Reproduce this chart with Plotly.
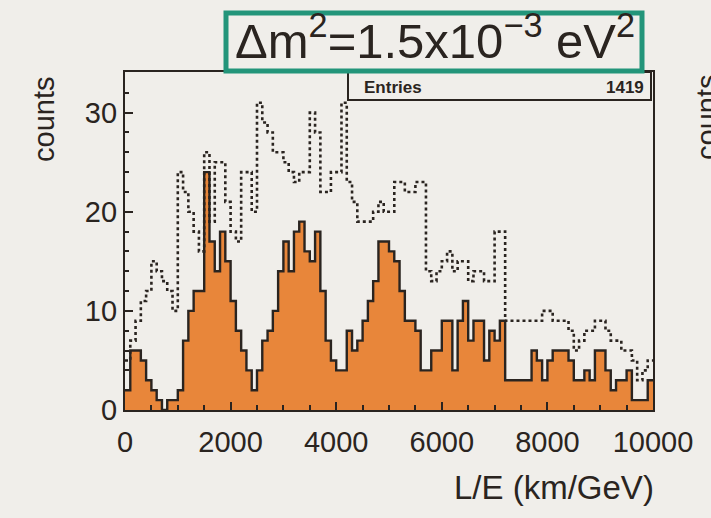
import numpy as np
import plotly.graph_objects as go

# histogram binning (L/E, km/GeV)
bin_width = 100
n_bins = 100

# oscillated spectrum (orange filled histogram)
osc_counts = [2, 6, 6, 5, 3, 2, 1, 0, 1, 1,
              2, 7, 10, 12, 12, 24, 17, 14, 18, 15,
              11, 8, 6, 4, 2, 4, 7, 8, 10, 14,
              17, 14, 18, 19, 16, 15, 18, 12, 7, 5,
              4, 4, 8, 6, 7, 9, 11, 13, 17, 17,
              16, 15, 12, 9, 9, 8, 4, 4, 6, 6,
              9, 9, 4, 9, 11, 7, 9, 9, 5, 8,
              7, 9, 3, 3, 3, 3, 3, 6, 5, 3,
              5, 6, 6, 6, 5, 3, 3, 4, 3, 6,
              6, 4, 2, 3, 3, 4, 1, 1, 1, 3]

# no-oscillation expectation (dotted histogram)
noosc_counts = [5, 7, 9, 11, 12, 15, 14, 13, 12, 10,
                24, 22, 20, 18, 16, 26, 19, 25, 25, 21,
                18, 17, 24, 24, 20, 31, 29, 28, 26, 26,
                25, 24, 23, 24, 24, 30, 28, 22, 22, 24,
                24, 31, 23, 21, 19, 19, 19, 20, 21, 20,
                20, 23, 23, 22, 22, 23, 23, 14, 13, 14,
                15, 16, 14, 15, 15, 13, 14, 14, 13, 13,
                18, 18, 9, 9, 9, 9, 9, 9, 9, 10,
                10, 9, 9, 9, 8, 6, 7, 8, 8, 9,
                9, 8, 7, 7, 6, 6, 5, 3, 4, 5]

x_tick_vals = [0, 2000, 4000, 6000, 8000, 10000]
x_tick_text = ["0", "2000", "4000", "6000", "8000", "10000"]
y_tick_vals = [0, 10, 20, 30]
entries = 1419

edges = np.arange(n_bins + 1) * bin_width
osc_y = osc_counts + [osc_counts[-1]]
noosc_y = noosc_counts + [noosc_counts[-1]]

BG = "#f0eeea"
ORANGE = "#e8863a"
GREEN = "#23957a"
INK = "#2a2420"
FONT = "Liberation Sans"

fig = go.Figure()
fig.add_trace(go.Scatter(x=edges, y=osc_y, mode="lines", line_shape="hv",
                         fill="tozeroy", fillcolor=ORANGE,
                         line=dict(color=INK, width=2.4),
                         hoverinfo="skip", showlegend=False))
fig.add_trace(go.Scatter(x=edges, y=noosc_y, mode="lines", line_shape="hv",
                         line=dict(color=INK, width=2.6, dash="dot"),
                         hoverinfo="skip", showlegend=False))

fig.update_layout(
    width=711, height=518,
    margin=dict(l=125, r=58, t=72, b=108),
    paper_bgcolor=BG, plot_bgcolor=BG,
    font=dict(family=FONT, color=INK),
    showlegend=False,
)
fig.update_xaxes(range=[0, 10000], tickvals=x_tick_vals, ticktext=x_tick_text,
                 ticks="inside", ticklen=8, tickwidth=1.8, tickcolor=INK,
                 minor=dict(dtick=500, ticks="inside", ticklen=5, tickwidth=1.5, tickcolor=INK),
                 showgrid=False, zeroline=False,
                 showline=True, linecolor=INK, linewidth=2.2, mirror=True,
                 tickfont=dict(size=29, family=FONT, color=INK), ticklabelstandoff=5)
fig.update_yaxes(range=[0, 34.1], tickvals=y_tick_vals,
                 ticks="inside", ticklen=8, tickwidth=1.8, tickcolor=INK,
                 minor=dict(dtick=2, ticks="inside", ticklen=4, tickwidth=1.5, tickcolor=INK),
                 showgrid=False, zeroline=False,
                 showline=True, linecolor=INK, linewidth=2.2, mirror=True,
                 tickfont=dict(size=29, family=FONT, color=INK), ticklabelstandoff=0)

# axis titles
fig.add_annotation(text="counts", xref="paper", yref="paper",
                   x=(44 - 125) / 528, y=(410 - 120) / 338, textangle=-90,
                   xanchor="center", yanchor="middle",
                   showarrow=False, font=dict(size=29, family=FONT, color=INK))
fig.add_annotation(text="L/E (km/GeV)", xref="paper", yref="paper",
                   x=(656 - 125) / 528, y=(410 - 487) / 338, xanchor="right",
                   yanchor="middle",
                   showarrow=False, font=dict(size=33, family=FONT, color=INK))
# partial label from neighbouring panel (cut by the right edge, as in the scan)
fig.add_annotation(text="counts", xref="paper", yref="paper",
                   x=(707 - 125) / 528, y=(410 - 118) / 338, textangle=-90,
                   xanchor="center", yanchor="middle",
                   showarrow=False, font=dict(size=29, family=FONT, color=INK))

# stats box
fig.add_shape(type="rect", xref="paper", yref="paper",
              x0=(348 - 125) / 528, x1=(651 - 125) / 528,
              y0=(410 - 100) / 338, y1=1.0,
              line=dict(color=INK, width=2), fillcolor=BG)
fig.add_annotation(text="<b>Entries</b>", xref="paper", yref="paper",
                   x=(362 - 125) / 528, y=(410 - 87) / 338, xanchor="left",
                   yanchor="middle",
                   showarrow=False, font=dict(size=17, family=FONT, color=INK))
fig.add_annotation(text="<b>%d</b>" % entries, xref="paper", yref="paper",
                   x=(646 - 125) / 528, y=(410 - 87) / 338, xanchor="right",
                   yanchor="middle",
                   showarrow=False, font=dict(size=17, family=FONT, color=INK))

# title box
fig.add_shape(type="rect", xref="paper", yref="paper",
              x0=(226 - 125) / 528, x1=(642 - 125) / 528,
              y0=(410 - 71) / 338, y1=(410 - 13) / 338,
              line=dict(color=GREEN, width=5), fillcolor="rgba(0,0,0,0)")
fig.add_annotation(text="Δm<sup>2</sup>=1.5x10<sup>−3</sup> eV<sup>2</sup>",
                   xref="paper", yref="paper",
                   x=(435 - 125) / 528, y=(410 - 37) / 338, yanchor="middle",
                   showarrow=False, font=dict(size=49, family=FONT, color=INK))

fig.write_html("out.html")
